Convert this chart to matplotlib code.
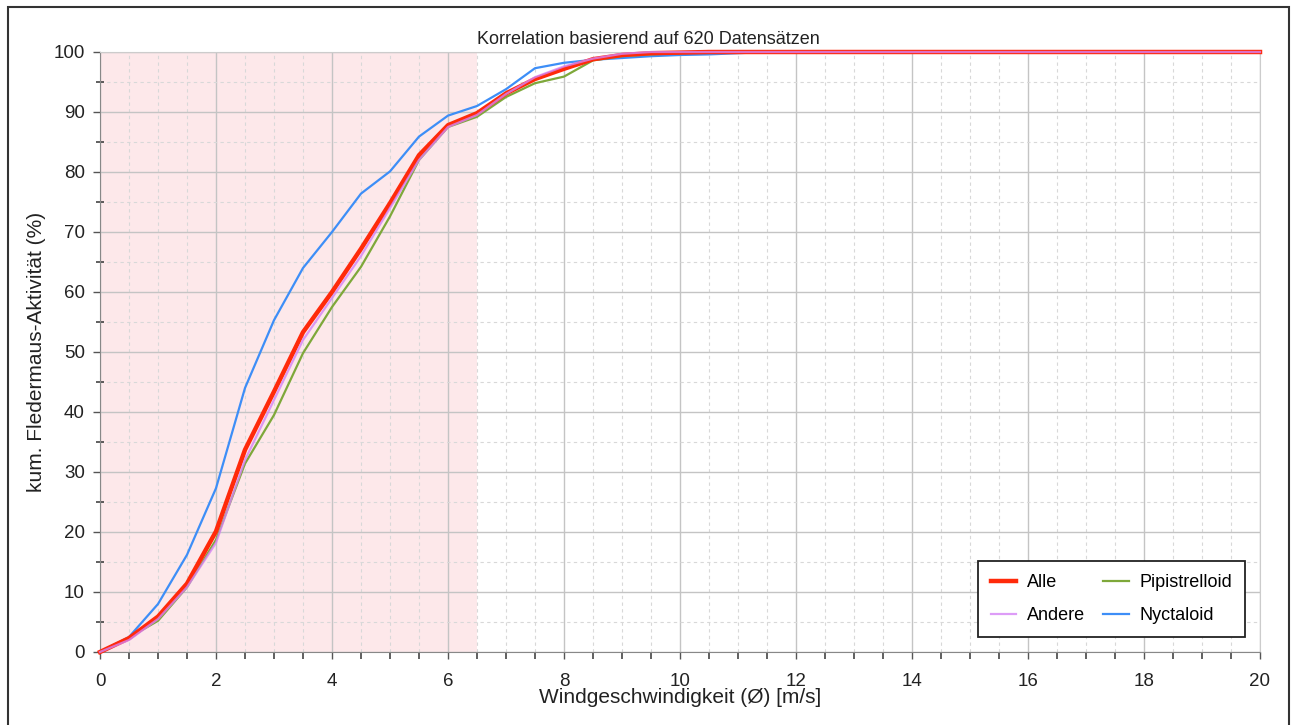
import matplotlib as mpl
mpl.use('Agg')
from matplotlib import pyplot as plt
from matplotlib.patches import Rectangle
from matplotlib.ticker import MultipleLocator

plt.rcParams['font.family'] = ['Liberation Sans', 'DejaVu Sans']

# wind speed steps (m/s)
wind = [i * 0.5 for i in range(41)]

alle = [0, 2.3, 5.9, 11.4, 20.1, 33.7, 43.4, 53.3, 60.0, 67.2, 74.8, 82.8, 87.8, 89.8, 93.1,
        95.5, 97.2, 98.8, 99.5, 99.8, 99.9] + [100] * 20
andere = [0, 2.0, 5.5, 10.8, 18.2, 32.0, 42.0, 52.0, 59.0, 66.0, 74.0, 82.0, 87.5, 89.5, 93.0,
          95.8, 97.6, 98.9, 99.7] + [100] * 22
pipistrelloid = [0, 2.4, 5.2, 10.8, 18.7, 31.4, 39.5, 49.8, 57.5, 64.2, 72.6, 82.0, 87.5, 89.2,
                 92.5, 94.8, 95.9, 98.6, 99.3, 99.6, 99.8] + [100] * 20
nyctaloid = [0, 2.5, 8.0, 16.2, 27.3, 44.0, 55.3, 64.0, 70.0, 76.4, 80.1, 85.9, 89.4, 91.0, 93.8,
             97.3, 98.2, 98.7, 99.0, 99.3, 99.5, 99.6, 99.8] + [100] * 18

shade_end = 6.5

fig = plt.figure(figsize=(12.96, 7.25), dpi=100)
ax = fig.add_axes([100 / 1296, 1 - 652 / 725, 1160 / 1296, 600 / 725])

ax.axvspan(0, shade_end, color='#fde8ea', zorder=0, lw=0)

ax.plot(wind, nyctaloid, color='#3d8ef7', lw=1.6, label='Nyctaloid', clip_on=False, zorder=3)
ax.plot(wind, pipistrelloid, color='#7ea83a', lw=1.6, label='Pipistrelloid', clip_on=False, zorder=3)
ax.plot(wind, alle, color='#ff2a0a', lw=3.2, label='Alle', clip_on=False, zorder=3)
ax.plot(wind, andere, color='#d583f5', lw=1.6, alpha=0.8, label='Andere', clip_on=False, zorder=4)

ax.set_xlim(0, 20)
ax.set_ylim(0, 100)
ax.xaxis.set_major_locator(MultipleLocator(2))
ax.xaxis.set_minor_locator(MultipleLocator(0.5))
ax.yaxis.set_major_locator(MultipleLocator(10))
ax.yaxis.set_minor_locator(MultipleLocator(5))

ax.grid(which='major', color='#c4c4c4', lw=1.0, ls='-', zorder=1)
ax.grid(which='minor', color='#d8d8d8', lw=0.8, ls=(0, (3, 3)), zorder=1)
ax.set_axisbelow(True)

ax.tick_params(which='major', direction='out', length=5, width=1, color='#555555',
               labelsize=13.5, labelcolor='#222222')
ax.tick_params(axis='x', which='minor', direction='out', length=5, width=1.2, color='#444444')
ax.tick_params(axis='y', which='minor', direction='inout', length=6, width=1.2, color='#444444')
ax.tick_params(axis='x', pad=10)
ax.tick_params(axis='y', pad=6)

for side in ['left', 'bottom']:
    ax.spines[side].set_color('#888888')
for side in ['top', 'right']:
    ax.spines[side].set_color('#cccccc')

ax.set_xlabel('Windgeschwindigkeit (Ø) [m/s]', fontsize=15, color='#222222', labelpad=-1)
ax.set_ylabel('kum. Fledermaus-Aktivität (%)', fontsize=15, color='#222222', labelpad=5)
fig.text(648 / 1296, 1 - 40 / 725, 'Korrelation basierend auf 620 Datensätzen',
         ha='center', va='center', fontsize=13, color='#222222')

handles, labels = ax.get_legend_handles_labels()
order = ['Alle', 'Andere', 'Pipistrelloid', 'Nyctaloid']
hl = {l: h for h, l in zip(handles, labels)}
leg = ax.legend([hl[k] for k in order], order, ncol=2, loc='lower right',
                bbox_to_anchor=(0.987, 0.025), borderaxespad=0, fancybox=False,
                framealpha=1, edgecolor='#222222', fontsize=13, handlelength=1.4,
                handletextpad=0.6, columnspacing=1.0, labelspacing=0.9, borderpad=0.7)
leg.get_frame().set_linewidth(1.3)

# outer frame of the original screenshot
fig.patches.append(Rectangle((8 / 1296, -0.05), 1281 / 1296, 1.05 - 7 / 725,
                             transform=fig.transFigure, fill=False, edgecolor='#333333',
                             lw=1.5))

plt.savefig('out.png', dpi=100)
